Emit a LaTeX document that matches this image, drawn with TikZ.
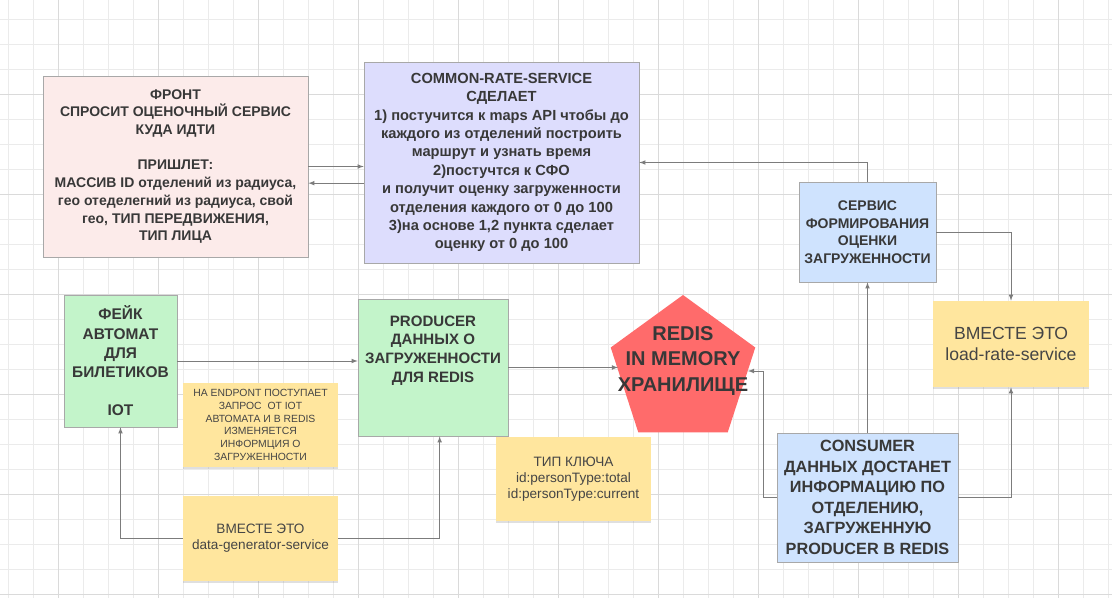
\documentclass[tikz,border=0pt]{standalone}
\usepackage{fontspec}
\setmainfont{Liberation Sans}
\usetikzlibrary{positioning,arrows,shapes,shadows,calc}
\definecolor{gridmin}{HTML}{EBEBEB}
\definecolor{gridmaj}{HTML}{DADADA}
\definecolor{boxline}{HTML}{A8A8A8}
\definecolor{linecol}{HTML}{7C7C7C}
\definecolor{txt}{HTML}{383838}
\definecolor{notetxt}{HTML}{454545}
\definecolor{pinkfill}{HTML}{FCEBEA}
\definecolor{lilafill}{HTML}{DDDDFD}
\definecolor{bluefill}{HTML}{CFE3FE}
\definecolor{greenfill}{HTML}{C3F4CA}
\definecolor{redisfill}{HTML}{FF6B6B}
\definecolor{notefill}{HTML}{FFE69E}
\newcommand{\fsz}[2]{\fontsize{#1}{#2}\selectfont}
\tikzstyle{bbox}=[rectangle, draw=boxline, line width=0.5pt, inner sep=2pt,
                  align=center, text=txt]
\tikzstyle{pinkbox}=[bbox, fill=pinkfill]
\tikzstyle{lilabox}=[bbox, fill=lilafill]
\tikzstyle{bluebox}=[bbox, fill=bluefill]
\tikzstyle{greenbox}=[bbox, fill=greenfill]
\tikzstyle{note}=[rectangle, fill=notefill, inner sep=2pt, align=center,
                  text=notetxt, drop shadow={shadow xshift=0pt, shadow yshift=-1.5pt,
                  opacity=0.25}]
\tikzstyle{pline}=[->, >=latex, draw=linecol, line width=0.6pt]
\begin{document}
\begin{tikzpicture}[x=0.75pt, y=-0.75pt]
\useasboundingbox (0,0) rectangle (1112,598);
\fill[white] (0,0) rectangle (1112,598);
% grid
\foreach \x in {8.33,33.33,...,1108.33} \draw[gridmin, line width=0.5pt] (\x,0) -- (\x,598);
\foreach \y in {19,44,...,594} \draw[gridmin, line width=0.5pt] (0,\y) -- (1112,\y);
\foreach \x in {58.33,158.33,...,1058.33} \draw[gridmaj, line width=0.6pt] (\x,0) -- (\x,598);
\foreach \y in {94,194,...,594} \draw[gridmaj, line width=0.6pt] (0,\y) -- (1112,\y);

\node (FRONT) [pinkbox, minimum width=198.75pt, minimum height=135.75pt,
  font=\bfseries\fsz{10.5pt}{13.3pt}] at (175.5,166.5)
  {ФРОНТ\\СПРОСИТ ОЦЕНОЧНЫЙ СЕРВИС\\КУДА ИДТИ\\[13.3pt]ПРИШЛЕТ:\\МАССИВ ID отделений из радиуса,\\гео отеделегний из радиуса, свой\\гео, ТИП ПЕРЕДВИЖЕНИЯ,\\ТИП ЛИЦА};
\node (COMMON) [lilabox, minimum width=206.25pt, minimum height=150.75pt,
  font=\bfseries\fsz{11pt}{13.8pt}] at (501.5,162.5)
  {COMMON-RATE-SERVICE\\СДЕЛАЕТ\\1) постучится к maps API чтобы до\\каждого из отделений построить\\маршрут и узнать время\\2)постучтся к СФО\\и получит оценку загруженности\\отделения каждого от 0 до 100\\3)на основе 1,2 пункта сделает\\оценку от 0 до 100};
\node (SERVICE) [bluebox, minimum width=102.75pt, minimum height=75pt,
  font=\bfseries\fsz{10.5pt}{13.1pt}] at (867.5,232)
  {СЕРВИС\\ФОРМИРОВАНИЯ\\ОЦЕНКИ\\ЗАГРУЖЕННОСТИ};
\node (LOAD) [note, minimum width=117pt, minimum height=64.5pt,
  font=\fsz{13.2pt}{15.5pt}] at (1011,344)
  {ВМЕСТЕ ЭТО\\load-rate-service};
\node (FAKE) [greenbox, minimum width=84.75pt, minimum height=99pt,
  font=\bfseries\fsz{11.6pt}{14.4pt}] at (120.5,361)
  {ФЕЙК\\АВТОМАТ\\ДЛЯ\\БИЛЕТИКОВ\\[14.4pt]IOT};
\node (PRODUCER) [greenbox, minimum width=112.5pt, minimum height=102.75pt,
  font=\bfseries\fsz{11.3pt}{14pt}] at (433,367.5)
  {PRODUCER\\ДАННЫХ О\\ЗАГРУЖЕННОСТИ\\ДЛЯ REDIS\\[14pt]};
\node (ENDPOINT) [note, minimum width=116.25pt, minimum height=63pt,
  font=\fsz{7.8pt}{9.5pt}] at (260.5,425)
  {НА ENDPONT ПОСТУПАЕТ\\ЗАПРОС~~ОТ IOT\\АВТОМАТА И В REDIS\\ИЗМЕНЯЕТСЯ\\ИНФОРМЦИЯ О\\ЗАГРУЖЕННОСТИ};
\node (DATAGEN) [note, minimum width=116.25pt, minimum height=63.75pt,
  font=\fsz{10.2pt}{12.2pt}, below=21pt of ENDPOINT]
  {ВМЕСТЕ ЭТО\\data-generator-service};
\node (KEYTYPE) [note, minimum width=116.25pt, minimum height=63pt,
  font=\fsz{10.2pt}{12.2pt}] at (573.5,479)
  {ТИП КЛЮЧА\\id:personType:total\\id:personType:current};
\node (CONSUMER) [bluebox, minimum width=135.75pt, minimum height=96.75pt,
  font=\bfseries\fsz{12.2pt}{15.4pt}] at (867.5,497.5)
  {CONSUMER\\ДАННЫХ ДОСТАНЕТ\\ИНФОРМАЦИЮ ПО\\ОТДЕЛЕНИЮ,\\ЗАГРУЖЕННУЮ\\PRODUCER В REDIS};
\node (REDIS) [regular polygon, regular polygon sides=5, minimum size=114pt,
  inner sep=0pt, fill=redisfill,
  label={[align=center, text=txt, font=\bfseries\fsz{15pt}{18.8pt}, yshift=7.5pt]center:{REDIS\\IN MEMORY\\ХРАНИЛИЩЕ}}]
  at (683,371) {};

% connectors
\coordinate (FB) at ([yshift=-12.5pt]FRONT.east);
\draw[pline] (FRONT.east) -- (FRONT.east -| COMMON.west);
\draw[pline] (FB -| COMMON.west) -- (FB);
\draw[pline] (SERVICE.north) |- (COMMON.east);
\draw[pline] (SERVICE.east) -| (LOAD.north);
\draw[pline] (CONSUMER.north) -- (SERVICE.south);
\draw[pline] (CONSUMER.east) -| (LOAD.south);
\draw[pline] (CONSUMER.west) -- ++(-13,0) |- (REDIS.east);
\draw[pline] (FAKE.east) -- (FAKE.east -| PRODUCER.west);
\draw[pline] (PRODUCER.east) -- (PRODUCER.east -| REDIS.west);
\draw[pline] (DATAGEN.west) -| (FAKE.south);
\draw[pline] (DATAGEN.east) -| ([xshift=5pt]PRODUCER.south);

\end{tikzpicture}
\end{document}
